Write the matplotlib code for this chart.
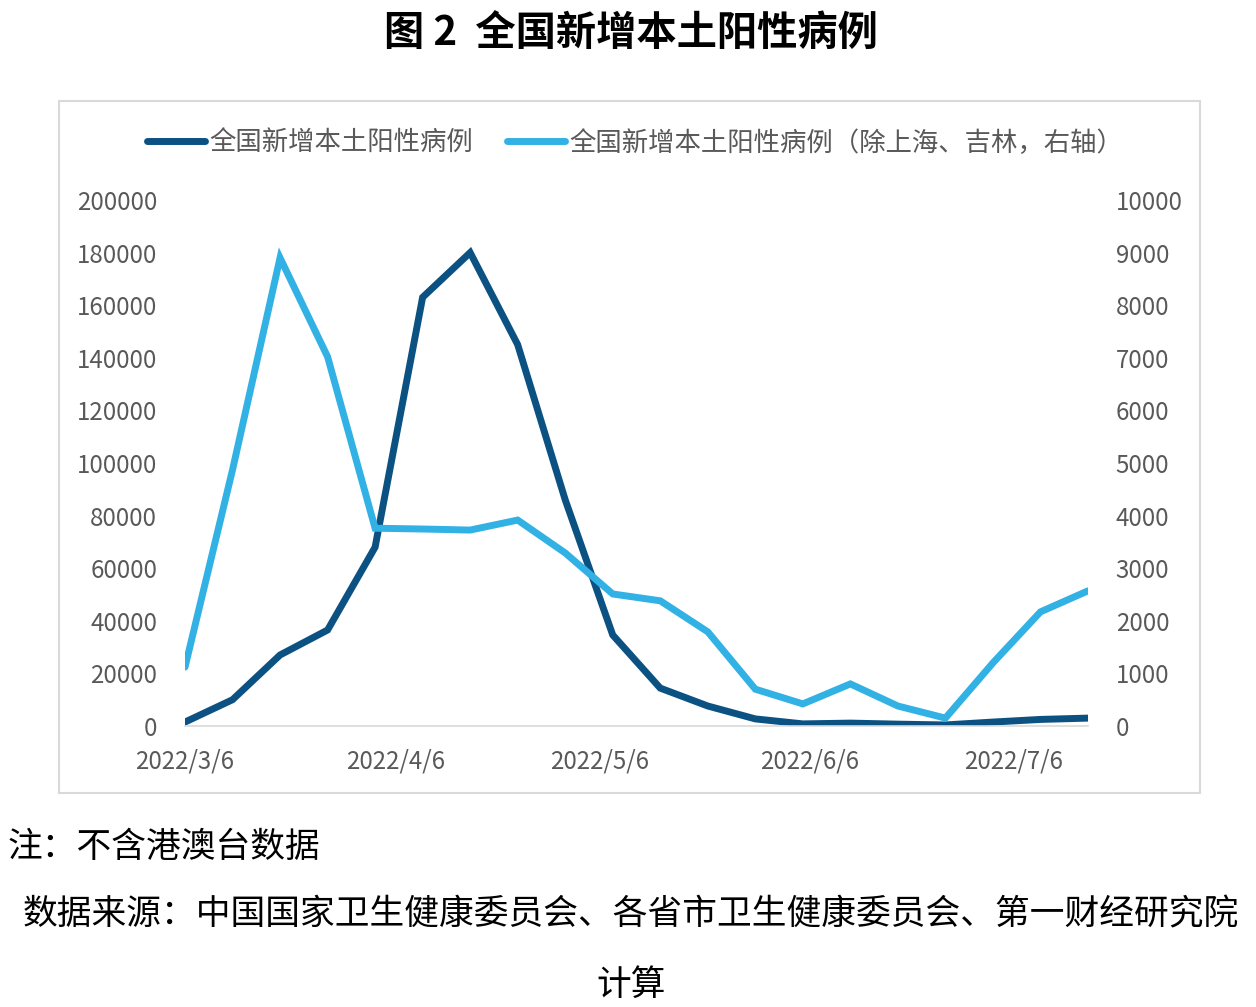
import numpy as np
import pandas as pd
import matplotlib
matplotlib.use("Agg")
import matplotlib.pyplot as plt
import matplotlib.dates as mdates
from matplotlib.patches import Rectangle

plt.rcParams['font.family'] = ['Noto Sans CJK SC', 'DejaVu Sans']

# weekly data, 2022/3/6 .. 2022/7/17
dates = pd.date_range("2022-03-06", periods=20, freq="7D")
national = [1500, 10000, 27000, 36500, 68000, 163000, 180000, 145000, 86000, 34600,
            14400, 7600, 2700, 800, 1100, 700, 400, 1500, 2500, 3000]
excl_sh_jl = [1120, 4870, 8900, 7020, 3760, 3745, 3725, 3915, 3290, 2510,
              2380, 1790, 700, 420, 800, 380, 150, 1200, 2170, 2570]

xtick_dates = pd.to_datetime(["2022-03-06", "2022-04-06", "2022-05-06", "2022-06-06", "2022-07-06"])
xtick_labels = ["2022/3/6", "2022/4/6", "2022/5/6", "2022/6/6", "2022/7/6"]

legend_labels = ["全国新增本土阳性病例", "全国新增本土阳性病例（除上海、吉林，右轴）"]
title = "图 2  全国新增本土阳性病例"
note = "注：不含港澳台数据"
source = "数据来源：中国国家卫生健康委员会、各省市卫生健康委员会、第一财经研究院"
source2 = "计算"

dark = "#0B5283"
light = "#32B1E4"
gray = "#595959"

W, H = 1256, 1007
fig = plt.figure(figsize=(W / 100, H / 100), dpi=100)

# chart frame
fig.patches.append(Rectangle((59 / W, 1 - 793 / H), (1200 - 59) / W, (793 - 101) / H,
                             transform=fig.transFigure, fill=False,
                             edgecolor="#d9d9d9", linewidth=1.5))

ax = fig.add_axes([185 / W, 1 - 726 / H, (1088 - 185) / W, (726 - 200) / H])
ax2 = ax.twinx()

l1, = ax.plot(dates, national, color=dark, linewidth=5, solid_capstyle="round",
              solid_joinstyle="miter")
l2, = ax2.plot(dates, excl_sh_jl, color=light, linewidth=5, solid_capstyle="round",
               solid_joinstyle="miter")

ax.set_xlim(dates[0], dates[-1])
ax.set_ylim(0, 200000)
ax2.set_ylim(0, 10000)
ax.set_yticks(np.arange(0, 200001, 20000))
ax2.set_yticks(np.arange(0, 10001, 1000))
ax.set_xticks(xtick_dates)
ax.set_xticklabels(xtick_labels)

for a in (ax, ax2):
    for s in a.spines.values():
        s.set_visible(False)
    a.tick_params(length=0, labelsize=17.3, colors=gray)
    a.set_facecolor("none")
ax.spines["bottom"].set_visible(True)
ax.spines["bottom"].set_color("#d9d9d9")
ax.spines["bottom"].set_linewidth(1.2)
ax.tick_params(axis="y", pad=20)
ax2.tick_params(axis="y", pad=20)
ax.tick_params(axis="x", pad=16)

fig.legend([l1, l2], legend_labels, loc="center", bbox_to_anchor=(635 / W, 1 - 143 / H),
           ncol=2, frameon=False, fontsize=19, labelcolor=gray,
           handlelength=2.2, handletextpad=0.15, columnspacing=1.3)

fig.text(631 / W, 1 - 33 / H, title, ha="center", va="center", fontsize=29,
         fontweight="bold", color="black")
fig.text(8 / W, 1 - 848 / H, note, ha="left", va="center", fontsize=25, color="black")
fig.text(631 / W, 1 - 915 / H, source, ha="center", va="center", fontsize=25, color="black")
fig.text(631 / W, 1 - 985 / H, source2, ha="center", va="center", fontsize=25, color="black")

fig.savefig("out.png", dpi=100, facecolor="white")
